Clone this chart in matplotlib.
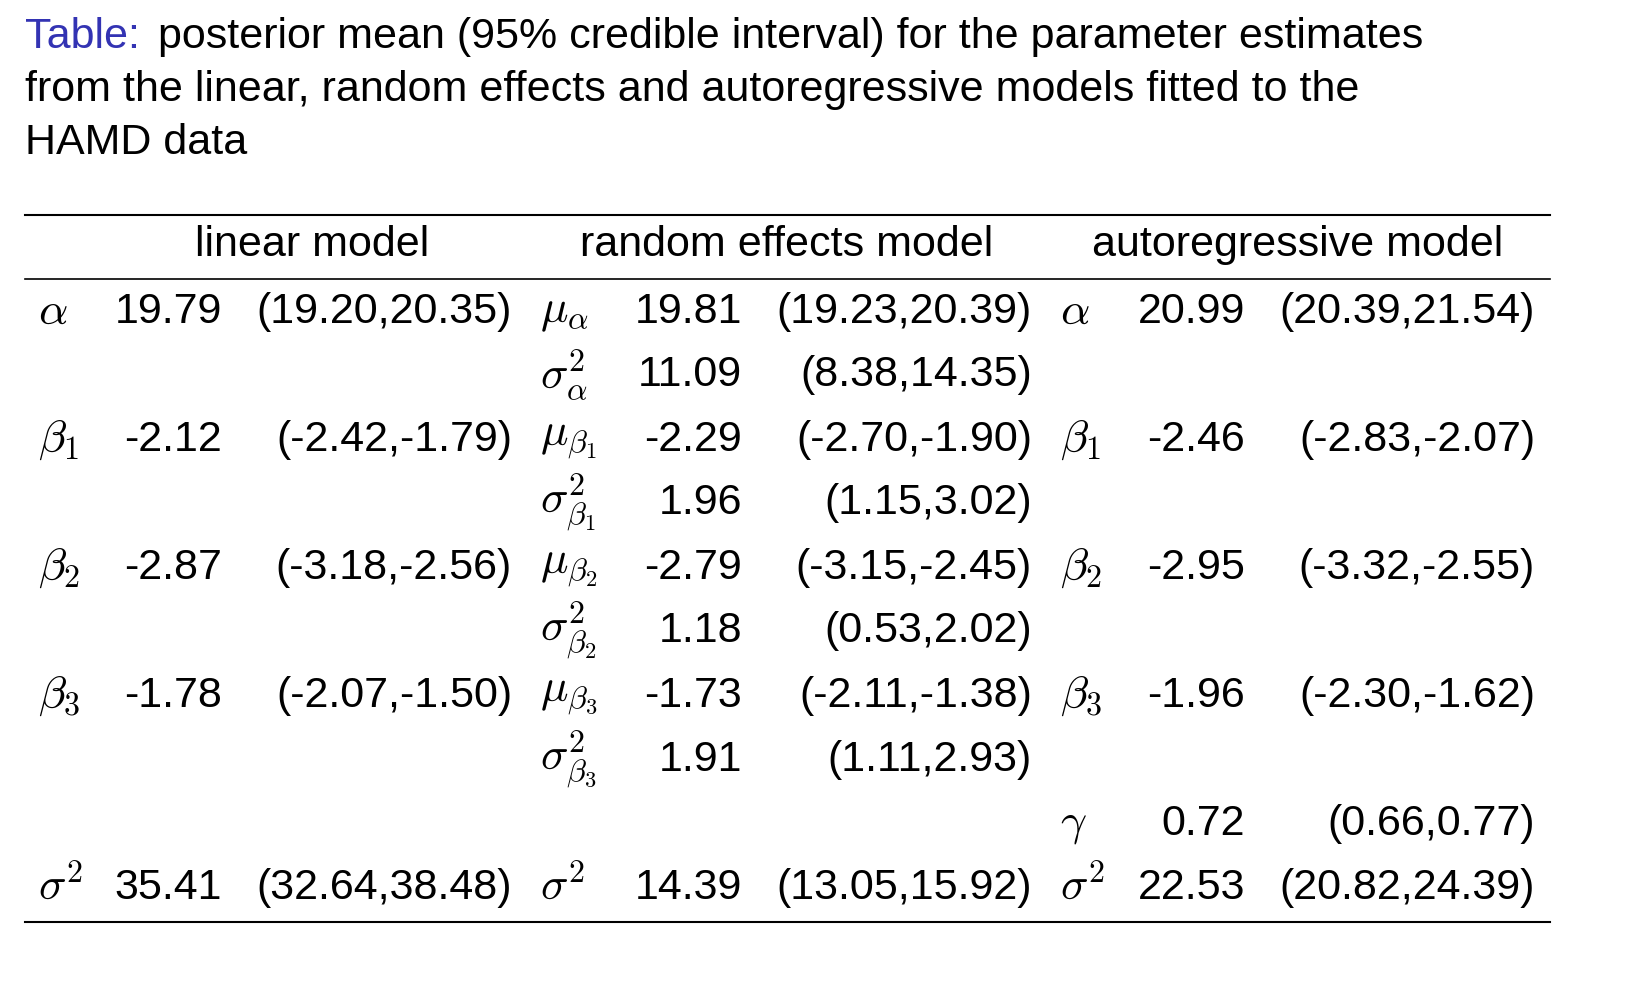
import matplotlib
matplotlib.use("Agg")
import matplotlib.pyplot as plt

plt.rcParams['font.family'] = ['Liberation Sans', 'DejaVu Sans']
plt.rcParams['mathtext.fontset'] = 'cm'

W, H = 1644, 986
FS = 31

title_lines = ["posterior mean (95% credible interval) for the parameter estimates",
               "from the linear, random effects and autoregressive models fitted to the",
               "HAMD data"]
headers = ["linear model", "random effects model", "autoregressive model"]

# one entry per row, (symbol, mean, interval) per model; None = empty
linear = [(r"$\alpha$", "19.79", "(19.20,20.35)"), None,
          (r"$\beta_1$", "-2.12", "(-2.42,-1.79)"), None,
          (r"$\beta_2$", "-2.87", "(-3.18,-2.56)"), None,
          (r"$\beta_3$", "-1.78", "(-2.07,-1.50)"), None, None,
          (r"$\sigma^2$", "35.41", "(32.64,38.48)")]
random_fx = [(r"$\mu_\alpha$", "19.81", "(19.23,20.39)"),
             (r"$\sigma^2_\alpha$", "11.09", "(8.38,14.35)"),
             (r"$\mu_{\beta_1}$", "-2.29", "(-2.70,-1.90)"),
             (r"$\sigma^2_{\beta_1}$", "1.96", "(1.15,3.02)"),
             (r"$\mu_{\beta_2}$", "-2.79", "(-3.15,-2.45)"),
             (r"$\sigma^2_{\beta_2}$", "1.18", "(0.53,2.02)"),
             (r"$\mu_{\beta_3}$", "-1.73", "(-2.11,-1.38)"),
             (r"$\sigma^2_{\beta_3}$", "1.91", "(1.11,2.93)"), None,
             (r"$\sigma^2$", "14.39", "(13.05,15.92)")]
autoreg = [(r"$\alpha$", "20.99", "(20.39,21.54)"), None,
           (r"$\beta_1$", "-2.46", "(-2.83,-2.07)"), None,
           (r"$\beta_2$", "-2.95", "(-3.32,-2.55)"), None,
           (r"$\beta_3$", "-1.96", "(-2.30,-1.62)"), None,
           (r"$\gamma$", "0.72", "(0.66,0.77)"),
           (r"$\sigma^2$", "22.53", "(20.82,24.39)")]

row_y = [312, 375, 440, 503, 568, 631, 696, 760, 824, 888]
cols = [(38, 222, 512), (540, 742, 1032), (1060, 1245, 1535)]
header_x = [312, 787, 1298]

fig = plt.figure(figsize=(W / 100, H / 100), dpi=100)
fx = lambda x: x / W
fy = lambda y: 1 - y / H

fig.text(fx(25), fy(37), "Table:", color="#3333b3", fontsize=FS, va="center")
fig.text(fx(158), fy(37), title_lines[0], fontsize=FS, va="center")
fig.text(fx(25), fy(90), title_lines[1], fontsize=FS, va="center")
fig.text(fx(25), fy(143), title_lines[2], fontsize=FS, va="center")

for y, lw in [(215, 1.5), (279, 1.2), (922, 1.5)]:
    fig.add_artist(plt.Line2D([fx(25), fx(1550)], [fy(y), fy(y)], color="black", lw=lw))

for hx, h in zip(header_x, headers):
    fig.text(fx(hx), fy(245), h, fontsize=FS, ha="center", va="center")

for (sx, vx, ix), model in zip(cols, [linear, random_fx, autoreg]):
    for y, cell in zip(row_y, model):
        if cell is None:
            continue
        sym, mean, ci = cell
        fig.text(fx(sx), fy(y), sym, fontsize=FS + 2, ha="left", va="center")
        fig.text(fx(vx), fy(y), mean, fontsize=FS, ha="right", va="center")
        fig.text(fx(ix), fy(y), ci, fontsize=FS, ha="right", va="center")

fig.savefig("out.png", dpi=100)
